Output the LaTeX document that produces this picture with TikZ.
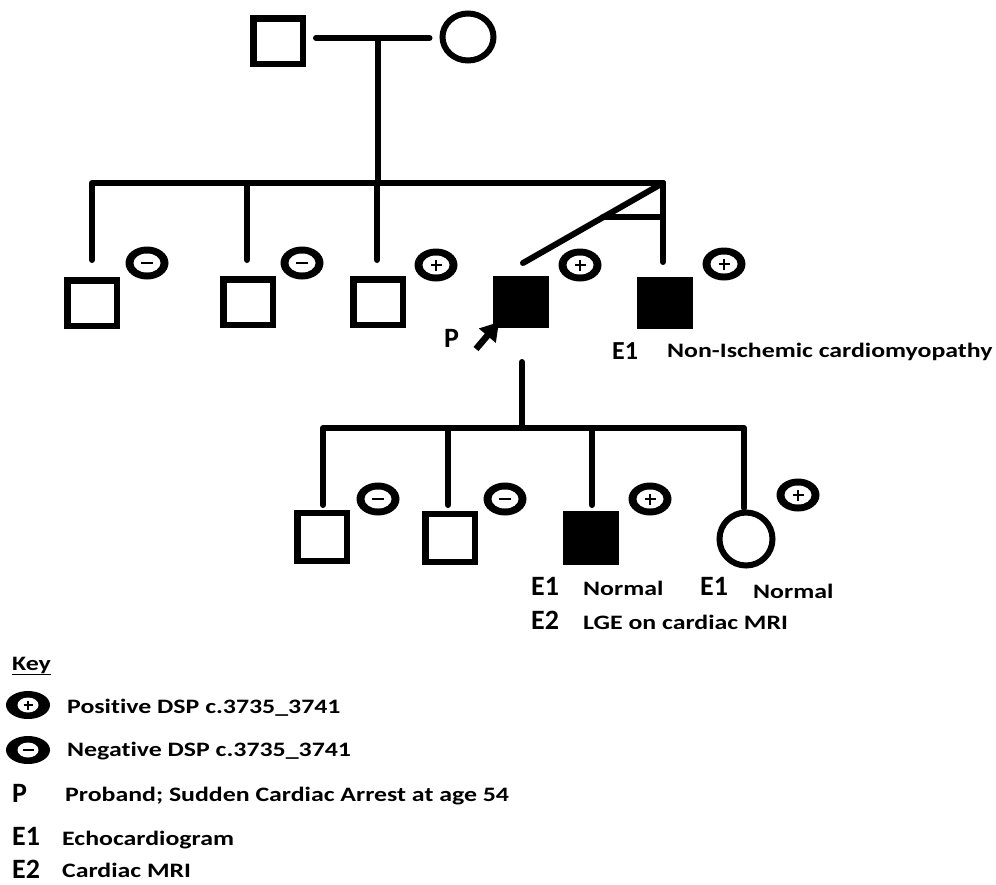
\documentclass[tikz,border=0pt]{standalone}
\usepackage{fontspec}
\setmainfont{Carlito}
\newfontfamily\lblfont[FakeStretch=1.26,Ligatures=NoCommon]{Carlito}
\usetikzlibrary{shapes.geometric,arrows.meta,calc}
\begin{document}
\begin{tikzpicture}[x=1pt,y=-1pt,
  ln/.style={line width=6pt, line cap=round, line join=round},
  sqr/.style={draw, line width=6.5pt, minimum width=49.5pt, minimum height=45.5pt, inner sep=0pt},
  sqrf/.style={sqr, fill=black},
  sqrb/.style={sqr, minimum height=48pt},
  sqrbf/.style={sqrb, fill=black},
  circ/.style={ellipse, draw, line width=6pt, minimum width=51pt, minimum height=47pt, inner sep=0pt},
  circb/.style={circ, minimum width=53pt, minimum height=53pt},
  sgnbase/.style={ellipse, fill=black, inner sep=0pt, outer sep=0pt, minimum width=43pt, minimum height=33pt},
  plussgn/.style={sgnbase, path picture={
     \fill[white] (path picture bounding box.center) ellipse [x radius=13.5pt, y radius=9.5pt];
     \draw[line width=2.4pt] ([xshift=-5.5pt]path picture bounding box.center) -- ([xshift=5.5pt]path picture bounding box.center)
        ([yshift=-5.5pt]path picture bounding box.center) -- ([yshift=5.5pt]path picture bounding box.center);}},
  minussgn/.style={sgnbase, path picture={
     \fill[white] (path picture bounding box.center) ellipse [x radius=13.5pt, y radius=9.5pt];
     \draw[line width=2.8pt] ([xshift=-6pt]path picture bounding box.center) -- ([xshift=6pt]path picture bounding box.center);}},
  keyplus/.style={sgnbase, minimum width=44pt, minimum height=28pt, path picture={
     \fill[white] (path picture bounding box.center) ellipse [x radius=10.5pt, y radius=7.5pt];
     \draw[line width=2.2pt] ([xshift=-4.5pt]path picture bounding box.center) -- ([xshift=4.5pt]path picture bounding box.center)
        ([yshift=-4.5pt]path picture bounding box.center) -- ([yshift=4.5pt]path picture bounding box.center);}},
  keyminus/.style={sgnbase, minimum width=44pt, minimum height=28pt, path picture={
     \fill[white] (path picture bounding box.center) ellipse [x radius=10.5pt, y radius=7.5pt];
     \draw[line width=2.6pt] ([xshift=-5.5pt]path picture bounding box.center) -- ([xshift=5.5pt]path picture bounding box.center);}},
  lbl/.style={anchor=base west, inner sep=0pt, font=\lblfont\bfseries\fontsize{20.5}{24}\selectfont},
  emid/.style={anchor=base west, inner sep=0pt, font=\bfseries\fontsize{26}{30}\selectfont},
  ebig/.style={anchor=base west, inner sep=0pt, font=\bfseries\fontsize{28}{32}\selectfont},
]
\fill[white] (0,0) rectangle (996,884);
\useasboundingbox (0,0) rectangle (996,884);

% Generation I
\node[sqr] (F) at (278,41) {};
\node[circ] (M) at (468,37) {};
\coordinate (mar) at (378,38);
\coordinate (sib1) at (378,183);
\draw[ln, shorten <=10pt, shorten >=10pt] (mar -| F.east) -- (mar -| M.west);
\draw[ln] (mar) -- (sib1);

% Generation II
\node[sqr]  (A2) at (92,303) {};
\node[sqr]  (B2) at (248,302) {};
\node[sqr]  (C2) at (378,302) {};
\node[sqrf] (P2) at (521,302) {};
\node[sqrf] (T2) at (665,303) {};
\coordinate (tw) at (663,183);
\coordinate (d1) at (92,260);
\coordinate (d2) at (247,260);
\coordinate (d3) at (377,260);
\coordinate (d4) at (523,263);
\coordinate (d5) at (663,262);
\draw[ln] (d1) |- (tw);
\draw[ln] (d2) -- (d2 |- tw);
\draw[ln] (d3) -- (d3 |- tw);
\draw[ln] (tw) -- (d5);
\draw[ln] (tw) -- (d4);
\coordinate (twb) at ($(tw)!0.43!(d4)$);
\draw[ln] (twb) -- (twb -| d5);

\node[minussgn] (sA2) at (147,263) {};
\node[minussgn] (sB2) at (302,263) {};
\node[plussgn]  (sC2) at (436,265) {};
\node[plussgn]  (sP2) at (580,265) {};
\node[plussgn]  (sT2) at (724,264) {};

\node[anchor=base west, inner sep=0pt, font=\bfseries\fontsize{28}{32}\selectfont] (Plab) at (444,347) {P};
\coordinate (pa) at (476,349);
\draw[line width=6.5pt, -{Triangle[length=18pt,width=21pt]}] (pa) -- ([shift={(6,-6)}]P2.south west);

\node[emid] (E1a) at (612,359) {E1};
\node[lbl]  (NIC) at (667,357) {Non-Ischemic cardiomyopathy};

% Generation III
\coordinate (pd) at (522,362);
\coordinate (sib3) at (522,428);
\draw[ln] (pd) -- (sib3);
\node[sqrb]  (A3) at (322,537) {};
\node[sqrb]  (B3) at (450,538) {};
\node[sqrbf] (C3) at (591,538) {};
\node[circb] (D3) at (746,539) {};
\coordinate (e1) at (323,505);
\coordinate (e2) at (448,505);
\coordinate (e3) at (592,505);
\coordinate (e4) at (744,508);
\draw[ln] (e1) |- (sib3) -| (e4);
\draw[ln] (e2) -- (e2 |- sib3);
\draw[ln] (e3) -- (e3 |- sib3);

\node[minussgn] (sA3) at (378,499) {};
\node[minussgn] (sB3) at (505,499) {};
\node[plussgn]  (sC3) at (650,499) {};
\node[plussgn]  (sD3) at (798,495) {};

\node[ebig] (E1b) at (531,595) {E1};
\node[lbl]  (N1)  at (583,595) {Normal};
\node[ebig] (E2b) at (531,629) {E2};
\node[lbl]  (LGE) at (583,629) {LGE on cardiac MRI};
\node[ebig] (E1c) at (700,595) {E1};
\node[lbl]  (N2)  at (753,598) {Normal};

% Key
\node[lbl] (key) at (12,670) {\underline{Key}};
\node[keyplus]  (kp) at (28,705) {};
\node[lbl] (kpt) at (67,713) {Positive DSP c.3735\_3741};
\node[keyminus] (km) at (28,750) {};
\node[lbl] (kmt) at (67,756) {Negative DSP c.3735\_3741};
\node[ebig] (kP) at (12,802) {P};
\node[lbl] (kPt) at (65,801) {Proband; Sudden Cardiac Arrest at age 54};
\node[ebig] (kE1) at (12,845) {E1};
\node[lbl] (kE1t) at (62,845) {Echocardiogram};
\node[ebig] (kE2) at (12,878) {E2};
\node[lbl] (kE2t) at (62,877) {Cardiac MRI};
\end{tikzpicture}
\end{document}
